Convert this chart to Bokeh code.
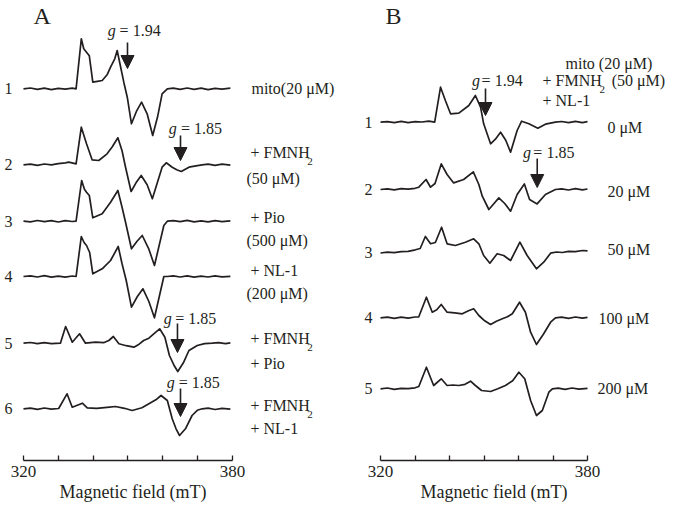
from bokeh.plotting import figure
from bokeh.models import Range1d, Label, Arrow, NormalHead, FixedTicker, Title
from bokeh.layouts import row
from bokeh.embed import file_html
from bokeh.resources import INLINE

# ---------------- data (field in mT, signal in arbitrary units, up = positive) -------------
A1_X = [320, 322, 324, 326, 328, 330, 332, 334, 335.1, 336.6, 337.3, 338.1, 338.9, 339.9, 341.2, 342.6, 344.0, 345.0, 346.2, 346.9, 348.1, 348.8, 349.8, 351.0, 352.5, 353.9, 355.5, 357.1, 358.5, 359.8, 361.3, 363, 365, 367, 369, 371, 373, 375, 377, 379.4]
A1_Y = [0, 0.8, -0.5, 0.6, -0.8, 0.5, -0.4, 0.7, 0, 50, 40, 36.6, 33, 6.6, 7.5, 8.3, 14, 21.6, 30, 38.3, 18.3, 6.6, -8.4, -35, -22, -13.4, -25, -46.7, -28, -5, 0, 0.7, -0.6, 0.8, -0.5, 0.6, -0.8, 0.5, -0.3, 0.6]

A2_X = [320, 322, 324, 326, 328, 330, 332, 333.0, 335.1, 336.6, 338.1, 339.7, 341.6, 344.0, 345.5, 347.1, 348.3, 349.3, 350.9, 352.3, 353.8, 355.5, 357.0, 359.8, 361.0, 362.7, 364.0, 365.3, 367.5, 369.5, 371.3, 373, 375, 377, 379.4]
A2_Y = [0, 0.6, -0.5, 0.8, 0, 1.2, 2, 2.7, 1, 37.6, 21, 5, 4.3, 11, 18, 27, 14, -2.4, -26.7, -18, -10.7, -20, -34, -2.4, 2, -2.4, -5, -6.7, -2.4, -1, 0, 0.6, -0.5, 0.7, -0.3]

A3_X = [320, 322, 324, 326, 328, 330, 332, 334, 335.1, 336.7, 337.5, 338.1, 338.9, 339.9, 342.6, 345.0, 347.1, 348.3, 349.3, 351.0, 352.6, 354.1, 356.0, 357.6, 360.3, 361.3, 363, 365, 367, 369, 371, 373, 375, 377, 379.4]
A3_Y = [0, -0.6, 0.7, -0.4, 0.6, -0.8, 0.5, -0.3, 0, 40.7, 32, 29, 25.7, 3.4, 7.4, 19, 30.7, 14, -1, -27.6, -20, -14.3, -28, -44.3, -4.3, 0, 0.6, -0.5, 0.8, -0.6, 0.4, -0.7, 0.5, -0.4, 0.3]

A4_X = [320, 322, 324, 326, 328, 330, 332, 334, 335.1, 336.6, 337.4, 338.1, 339.0, 339.9, 342.6, 345.0, 347.2, 348.3, 349.5, 351.0, 352.7, 354.3, 356.0, 357.6, 360.3, 361.3, 363, 365, 367, 369, 371, 373, 375, 377, 379.4]
A4_Y = [0, 0.6, -0.5, 0.8, -0.6, 0.4, -0.7, 0.5, 0, 40, 34, 31, 24, 2.7, 7.7, 16, 30, 12.7, -4, -30.7, -20, -12.3, -25, -41.3, 0, 0, 0.6, -0.5, 0.7, -0.6, 0.4, -0.5, 0.6, -0.3, 0.2]

A5_X = [320, 322, 324, 326, 328, 330.6, 332.1, 334.0, 336.1, 337.8, 340.7, 343, 344.5, 345.8, 347.4, 349.5, 351.7, 353.2, 354.5, 356.0, 357.4, 359.1, 360.6, 361.9, 363.2, 364.3, 366.0, 367.5, 369.9, 372, 374.2, 376, 378, 379.4]
A5_Y = [0, 0.7, -0.5, 0.6, -0.4, 0, 16.7, 1, 9.4, 0, 1, 0.5, 2.7, 6.7, -0.6, -2.5, -4, -1, 2.7, 5, 9.4, 14.4, 6, -12.3, -22, -28.3, -19, -7.3, -2.3, -0.5, 0, 0.6, -0.5, 0.3]

A6_X = [320, 322, 324, 326, 328, 330.1, 332.5, 334.0, 336.9, 338.3, 341, 344, 346.4, 349, 351.2, 354, 356.0, 358, 359.5, 361.3, 362.7, 363.8, 364.8, 366.5, 368.4, 369.9, 371.3, 373, 375, 377, 379.4]
A6_Y = [0, 0.7, -0.6, 0.8, -0.4, 0.3, 15, 1.6, 5.6, 1, 0.5, 1.5, 2.3, 0.5, -1.7, 1, 5, 9, 13.3, 8.3, -10, -20, -26.7, -20, -6.7, -1.5, 0, 0.6, -0.7, 0.5, -0.3]

B1_X = [320, 322, 324, 326, 328, 330, 332, 334, 335.7, 337.4, 338.8, 340.3, 342.7, 345.6, 347.5, 349.0, 349.9, 351.9, 353.3, 354.8, 356.3, 357.7, 359.6, 360.9, 363.0, 365.6, 367.8, 370.7, 372.5, 374.5, 376.5, 378.5, 380]
B1_Y = [0, 0.6, -0.5, 0.8, -0.4, 0.5, 0.2, 1, 0, 35, 21.7, 8.4, 9, 16.7, 26.7, 15, -1.6, -21.6, -17, -10, -18, -30, -8.3, 1, -1.6, -6, -2, 0, 0.7, -0.5, 0.8, -0.4, 0.6]

B2_X = [320, 322, 324, 326, 328, 330, 331.1, 333.2, 334.5, 335.8, 337.6, 339.3, 341.2, 344.1, 346.9, 348.5, 349.5, 351.4, 352.9, 354.3, 356.0, 357.7, 359.6, 361.7, 363.2, 365.4, 367.8, 370.7, 372.5, 374.5, 376.5, 378.5, 380]
B2_Y = [0, 0.6, -0.4, 0.8, 0.3, 1.2, 2.3, 10, 2.3, 6, 25.6, 15, 6.6, 10, 17.6, 5, -6.7, -20, -14, -8.4, -14, -21.7, -5, 5.6, -10, -14.4, -5, 0, 0.6, -0.5, 0.8, -0.3, 0.5]

B3_X = [320, 322, 324, 326, 328, 330.1, 331.5, 333.0, 334.5, 335.9, 337.7, 339.3, 341.7, 344.6, 347.0, 348.5, 349.9, 351.7, 353.8, 355.7, 357.7, 360.4, 362.5, 365.2, 367.3, 369.3, 371, 372.7, 374.5, 376.5, 378.5, 380]
B3_Y = [-0.5, 0.3, -0.2, 0.8, 1.2, 2.7, 4, 16, 8.7, 10, 25.3, 8.7, 7, 10.3, 13.7, 8.7, -3, -10.7, -1.3, -3, -8, 10.3, -3, -16.3, -9.7, -0.7, 0.5, 0, 1.2, 0.8, 2, 1.6]

B4_X = [320, 322, 324, 326, 328, 330, 331.1, 333.3, 335.0, 336.3, 337.6, 339.3, 341.5, 343.7, 345.5, 347.0, 348.5, 350.2, 351.9, 353.6, 355.3, 356.8, 358.2, 360.3, 362.0, 363.5, 365.2, 367.3, 369.3, 370.7, 372.5, 374.5, 376.5, 378.5, 380]
B4_Y = [0, 0.7, -0.5, 0.6, -0.3, 0.8, 1, 20.6, 5.6, 8, 13.3, 5.6, 5, 4, 7, 9, 2.3, -3, -6.7, -3.5, -1, 1, 4, 15.6, 5.6, -14.4, -26.7, -16, -4.4, 0, 0.6, -0.5, 0.8, -0.4, 0.5]

B5_X = [320, 322, 324, 326, 328, 330, 331.1, 333.3, 335.4, 337.6, 339.3, 341, 342.7, 344.5, 346.1, 347.5, 349.3, 351.9, 354, 356.2, 358.3, 360.1, 361.8, 363.5, 365.2, 366.9, 368.8, 369.8, 371.5, 373.5, 375.5, 377.5, 380]
B5_Y = [0, 0.8, -0.6, 0.5, 0.2, 1, 2.3, 21.6, 3.3, 10, 3.3, 3.8, 3.3, 4.5, 7.6, 3.3, -1.7, -2.7, 0, 3.3, 8, 16.6, 10, -11.7, -26.7, -21.7, -3.4, 0, 0.7, -0.5, 0.8, -0.4, 0.5]

TRACE_NUMBERS_A = ["1", "2", "3", "4", "5", "6"]
TRACE_NUMBERS_B = ["1", "2", "3", "4", "5"]
CONC_B = ["0 \u03bcM", "20 \u03bcM", "50 \u03bcM", "100 \u03bcM", "200 \u03bcM"]
TICKS = [320, 330, 340, 350, 360, 370, 380]
TICK_LABELS = {320: "320", 330: "", 340: "", 350: "", 360: "", 370: "", 380: "380"}
X_TITLE = "Magnetic field (mT)"

# ---------------- layout constants -----------------------------------------------------
A_OFFSETS = [371.7, 295.7, 239.3, 184, 117.3, 51.7]
B_OFFSETS = [338.3, 271, 208, 142.7, 71.7]
FONT = "Liberation Serif"
INK = "#231f20"
Y_RANGE = (0, 460)


def make_panel(x0, x1, title_offset):
    p = figure(width=346, height=507, x_range=Range1d(x0, x1), y_range=Range1d(*Y_RANGE),
               output_backend="svg", toolbar_location=None, y_axis_location=None,
               min_border=0, min_border_bottom=47, outline_line_color=None)
    p.grid.visible = False
    ax = p.xaxis[0]
    ax.ticker = FixedTicker(ticks=TICKS)
    ax.major_label_overrides = TICK_LABELS
    ax.bounds = (320, 380)
    ax.major_tick_in = 5
    ax.major_tick_out = 0
    ax.minor_tick_in = 0
    ax.minor_tick_out = 0
    ax.axis_line_width = 1.5
    ax.axis_line_color = INK
    ax.major_tick_line_color = INK
    ax.major_tick_line_width = 1.3
    ax.major_label_text_font = FONT
    ax.major_label_text_font_size = "17px"
    ax.major_label_text_color = INK
    ax.major_label_standoff = 5
    p.add_layout(Title(text=X_TITLE, align="left", offset=title_offset, standoff=0,
                       text_font=FONT, text_font_size="18px", text_font_style="normal",
                       text_color=INK), "below")
    return p


def txt(p, x, y, s, size="16px", style="normal", align="left"):
    p.add_layout(Label(x=x, y=y, text=s, text_font=FONT, text_font_size=size,
                       text_font_style=style, text_color=INK, text_baseline="middle",
                       text_align=align))


def arrow(p, x, y_top, y_tip):
    p.add_layout(Arrow(x_start=x, y_start=y_top, x_end=x, y_end=y_tip, line_width=1.6,
                       line_color=INK,
                       end=NormalHead(size=13, fill_color=INK, line_color=INK, line_width=1)))


def fmnh2(p, x, y, x_sub):
    txt(p, x, y, "+ FMNH")
    txt(p, x_sub, y - 9, "2", size="11px")


# ---------------- panel A ----------------------------------------------------------------
pA = make_panel(313.40, 412.74, 59)
A_TRACES = [(A1_X, A1_Y), (A2_X, A2_Y), (A3_X, A3_Y), (A4_X, A4_Y), (A5_X, A5_Y), (A6_X, A6_Y)]
for (xs, ys), off, num in zip(A_TRACES, A_OFFSETS, TRACE_NUMBERS_A):
    pA.line(xs, [v + off for v in ys], line_width=1.7, color=INK, line_join="round")
    txt(pA, 314.55, off, num)

txt(pA, 322.9, 445, "A", size="24px")
txt(pA, 385.46, 372, "mito(20 \u03bcM)")
fmnh2(pA, 385.17, 308, 401.5)
txt(pA, 384.02, 282, "(50 \u03bcM)")
txt(pA, 385.17, 243, "+ Pio")
txt(pA, 384.02, 220, "(500 \u03bcM)")
txt(pA, 385.17, 190, "+ NL-1")
txt(pA, 384.02, 167, "(200 \u03bcM)")
fmnh2(pA, 385.17, 122, 401.5)
txt(pA, 385.17, 97, "+ Pio")
fmnh2(pA, 385.17, 55, 401.5)
txt(pA, 385.17, 32, "+ NL-1")

txt(pA, 344.2, 430, "g", style="italic")
txt(pA, 347.6, 430, "= 1.94")
arrow(pA, 349.86, 418, 392)

txt(pA, 361.7, 332, "g", style="italic")
txt(pA, 365.2, 332, "= 1.85")
arrow(pA, 365.08, 325, 300)

txt(pA, 360.3, 142, "g", style="italic")
txt(pA, 363.6, 142, "= 1.85")
arrow(pA, 364.21, 137, 108)

txt(pA, 361.1, 78, "g", style="italic")
txt(pA, 364.6, 78, "= 1.85")
arrow(pA, 365.08, 72, 44)

# ---------------- panel B ----------------------------------------------------------------
pB = make_panel(310.14, 410.43, 74)
B_TRACES = [(B1_X, B1_Y), (B2_X, B2_Y), (B3_X, B3_Y), (B4_X, B4_Y), (B5_X, B5_Y)]
for (xs, ys), off, num, conc in zip(B_TRACES, B_OFFSETS, TRACE_NUMBERS_B, CONC_B):
    pB.line(xs, [v + off for v in ys], line_width=1.7, color=INK, line_join="round")
    txt(pB, 315.36, off, num)

txt(pB, 321.45, 445, "B", size="24px")
txt(pB, 373.62, 397, "mito (20 \u03bcM)")
fmnh2(pB, 366.96, 380, 383.5)
txt(pB, 387.0, 380, "(50 \u03bcM)")
txt(pB, 366.96, 360, "+ NL-1")

conc_x = [385.8, 385.8, 385.8, 383.19, 382.9]
conc_y = [333, 269, 211, 142, 72]
for cx, cy, c in zip(conc_x, conc_y, CONC_B):
    txt(pB, cx, cy, c)

txt(pB, 346.5, 380, "g", style="italic")
txt(pB, 349.3, 380, "= 1.94")
arrow(pB, 350.43, 372, 345)

txt(pB, 361.3, 308, "g", style="italic")
txt(pB, 364.3, 308, "= 1.85")
arrow(pB, 365.42, 302, 273)

layout = row(pA, pB)
open("out.html", "w").write(file_html(layout, INLINE))
